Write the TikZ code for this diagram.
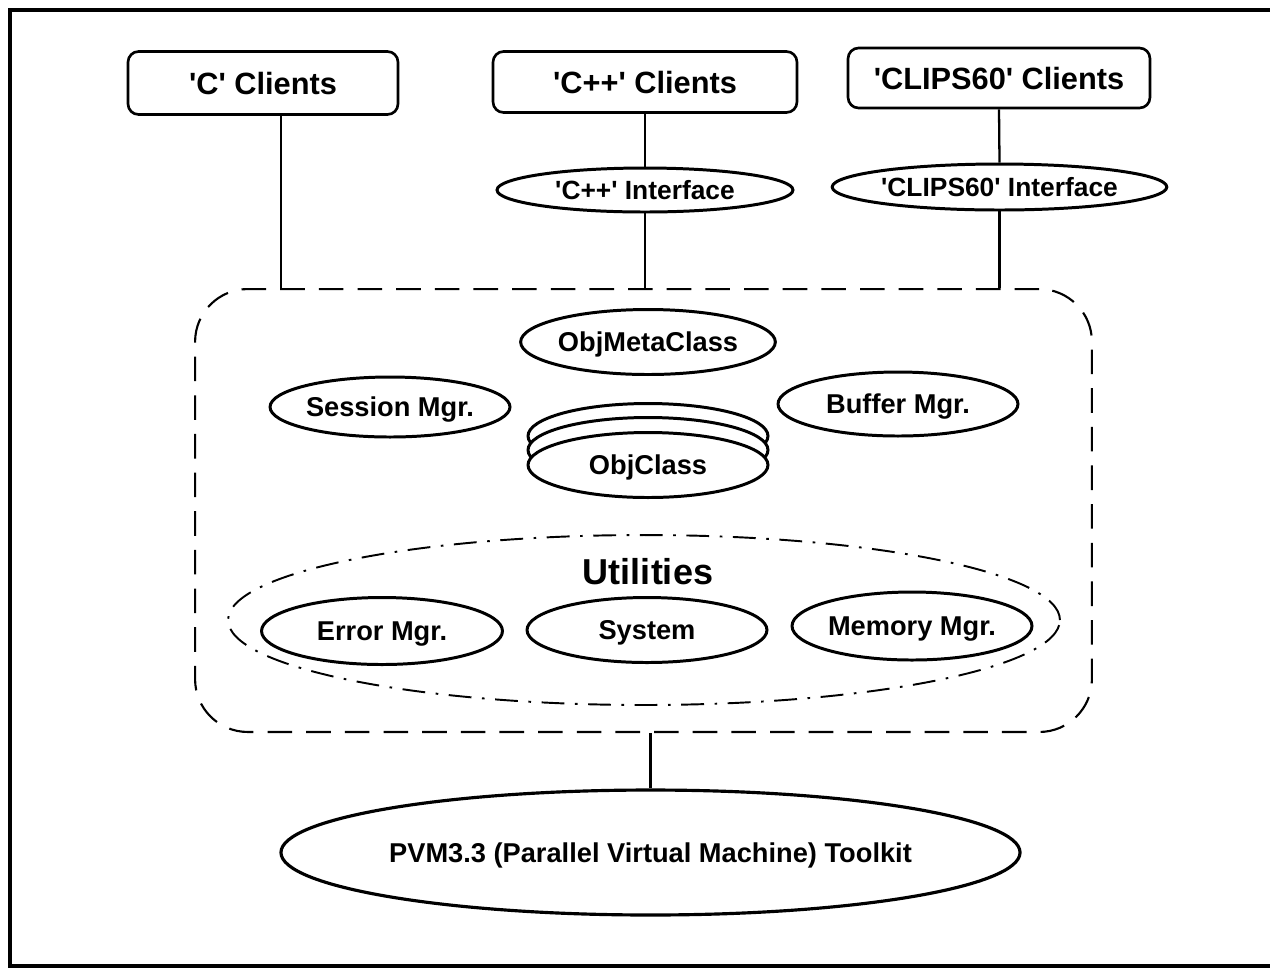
\documentclass[tikz,border=0pt]{standalone}
\usepackage{fontspec}
\newfontfamily\hv{Liberation Sans}
\usetikzlibrary{shapes.geometric}
\begin{document}
\begin{tikzpicture}[x=0.02cm,y=-0.02cm,
  client/.style={draw, line width=1.5pt, rounded corners=6pt, inner sep=0pt,
    text height=12.6pt, text depth=0pt,
    font=\hv\fontsize{17.5}{20}\selectfont\bfseries},
  oval/.style={draw, ellipse, line width=1.7pt, inner sep=0pt, fill=white,
    text height=11.2pt, text depth=0pt,
    font=\hv\fontsize{15.5}{18}\selectfont\bfseries},
  iface/.style={oval, text height=10.8pt, font=\hv\fontsize{15}{18}\selectfont\bfseries},
  conn/.style={line width=1.3pt},
  corebox/.style={draw, line width=1.2pt, dash pattern=on 14pt off 8pt,
    rounded corners=30pt, inner sep=0pt},
  utilring/.style={draw, ellipse, line width=1.1pt,
    dash pattern=on 13pt off 6pt on 1.5pt off 6pt, inner sep=0pt},
  title/.style={inner sep=0pt, text height=14.8pt, text depth=0pt,
    font=\hv\fontsize{20.5}{24}\selectfont\bfseries},
  frame/.style={line width=2.2pt}
]
\useasboundingbox (0,0) rectangle (1270,968);

% outer frame (right side off the page)
\draw[frame] (1270,10) -- (10,10) -- (10,966) -- (1270,966);

% clients
\node[client, minimum width=5.4cm, minimum height=1.26cm] (cc) at (263,83) {'C' Clients};
\node[client, minimum width=6.08cm, minimum height=1.22cm] (cpp) at (645,82) {'C++' Clients};
\node[client, minimum width=6.04cm, minimum height=1.2cm] (clips) at (999,78) {'CLIPS60' Clients};

% interfaces
\node[iface, minimum width=5.92cm, minimum height=0.88cm] (cppi) at (645,190) {'C++' Interface};
\node[iface, minimum width=5.94cm, minimum height=0.92cm] (clipsi) at (999.5,187) {'CLIPS60' Interface};

% core dashed region
\node[corebox, minimum width=17.94cm, minimum height=8.86cm] (core) at (643.5,510.5) {};

% connectors
\coordinate (ccl) at ([xshift=0.36cm]cc.south);
\draw[conn] (ccl) -- (ccl |- core.north);
\draw[conn] (cpp.south) -- (cppi.north);
\draw[conn] (cppi.south) -- (cppi.south |- core.north);
\draw[conn] (clips.south) -- (clipsi.north);
\draw[conn] (clipsi.south) -- (clipsi.south |- core.north);

% inside core
\node[oval, minimum width=4.8cm, minimum height=1.3cm] (meta) at (648,342) {ObjMetaClass};
\node[oval, minimum width=4.8cm, minimum height=1.2cm] (sess) at (390,407) {Session Mgr.};
\node[oval, minimum width=4.8cm, minimum height=1.28cm] (buf) at (898,404) {Buffer Mgr.};

\node[oval, minimum width=4.8cm, minimum height=1.3cm] (oc3) at (648,436) {};
\node[oval, minimum width=4.8cm, minimum height=1.3cm] (oc2) at (648,450) {};
\node[oval, minimum width=4.8cm, minimum height=1.3cm] (oc) at (648,465) {ObjClass};

% utilities
\node[utilring, minimum width=16.64cm, minimum height=3.4cm] (util) at (644,620) {};
\node[title] (utitle) at (648,571) {Utilities};
\node[oval, minimum width=4.82cm, minimum height=1.34cm] (err) at (382,631) {Error Mgr.};
\node[oval, minimum width=4.8cm, minimum height=1.3cm] (sys) at (647,630) {System};
\node[oval, minimum width=4.8cm, minimum height=1.36cm] (mem) at (912,626) {Memory Mgr.};

% PVM
\node[oval, line width=1.8pt, minimum width=13.82cm, minimum height=2.5cm] (pvm) at (650.5,852.5) {PVM3.3 (Parallel Virtual Machine) Toolkit};
\draw[conn] (pvm.north |- core.south) -- (pvm.north);
\end{tikzpicture}
\end{document}
